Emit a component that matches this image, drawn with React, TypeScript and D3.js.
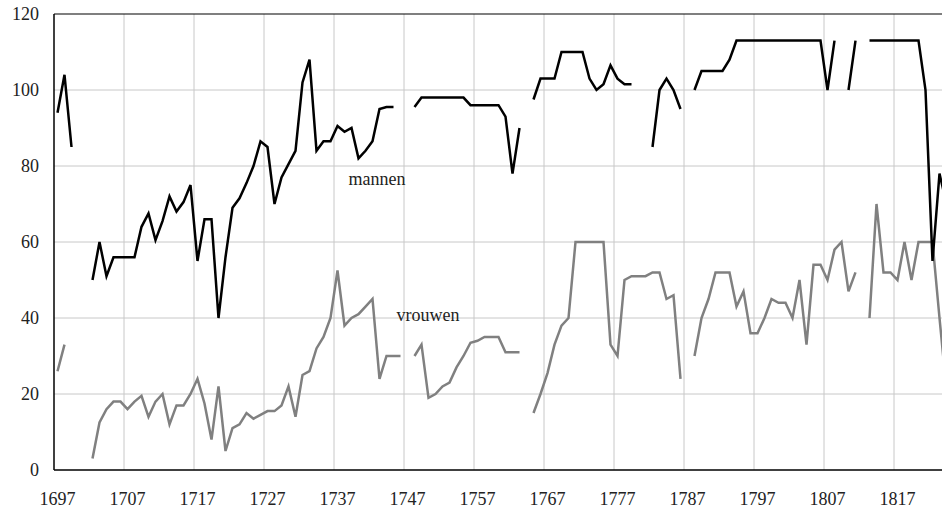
import React from 'react';
import * as d3 from 'd3';

// yearly categories 1697..1824
const years: number[] = d3.range(1697, 1825);

// mannen (black line), null = no data
const mannen: (number | null)[] = [
  94, 104, 85, null, null, 50, 60, 51, 56, 56,
  56, 56, 64, 67.5, 60.5, 65.5, 72, 68, 70.5, 75,
  55, 66, 66, 40, 56, 69, 71.5, 75.5, 80, 86.5,
  85, 70, 77, 80.5, 84, 102, 108, 84, 86.5, 86.5,
  90.5, 89, 90, 82, 84, 86.5, 95, 95.5, 95.5, null,
  null, 95.5, 98, 98, 98, 98, 98, 98, 98, 96,
  96, 96, 96, 96, 93, 78, 90, null, 97.5, 103,
  103, 103, 110, 110, 110, 110, 103, 100, 101.5, 106.5,
  103, 101.5, 101.5, null, null, 85, 100, 103, 100, 95,
  null, 100, 105, 105, 105, 105, 108, 113, 113, 113,
  113, 113, 113, 113, 113, 113, 113, 113, 113, 113,
  100, 113, null, 100, 113, null, 113, 113, 113, 113,
  113, 113, 113, 113, 100, 55, 78, 70,
];

// vrouwen (grey line)
const vrouwen: (number | null)[] = [
  26, 33, null, null, null, 3, 12.5, 16, 18, 18,
  16, 18, 19.5, 14, 18, 20, 12, 17, 17, 20,
  24, 17.5, 8, 22, 5, 11, 12, 15, 13.5, 14.5,
  15.5, 15.5, 17, 22, 14, 25, 26, 32, 35, 40,
  52.5, 38, 40, 41, 43, 45, 24, 30, 30, 30,
  null, 30, 33, 19, 20, 22, 23, 27, 30, 33.5,
  34, 35, 35, 35, 31, 31, 31, null, 15, 20,
  25.5, 33, 38, 40, 60, 60, 60, 60, 60, 33,
  30, 50, 51, 51, 51, 52, 52, 45, 46, 24,
  null, 30, 40, 45, 52, 52, 52, 43, 47, 36,
  36, 40, 45, 44, 44, 40, 50, 33, 54, 54,
  50, 58, 60, 47, 52, null, 40, 70, 52, 52,
  50, 60, 50, 60, 60, 60, 40, 21,
];

const yTicks = [0, 20, 40, 60, 80, 100, 120];
const xTickYears = d3.range(1697, 1825, 10);

const width = 942;
const height = 510;
const margin = { top: 14, left: 54, bottom: 40 };
const bandW = 7;
const font = '"Liberation Serif", "Times New Roman", serif';

export default function App() {
  const x = d3.scaleBand<number>()
    .domain(years)
    .range([margin.left, margin.left + years.length * bandW])
    .paddingInner(0)
    .paddingOuter(0);
  const y = d3.scaleLinear().domain([0, 120]).range([height - margin.bottom, margin.top]);

  const cx = (yr: number) => (x(yr) as number) + x.bandwidth() / 2;

  const line = d3.line<number | null>()
    .defined(d => d != null)
    .x((d, i) => cx(years[i]))
    .y(d => y(d as number));

  const plotRight = margin.left + years.length * bandW;
  const bottom = y(0);

  return (
    <svg width={width} height={height}
      style={{ position: 'absolute', left: 0, top: 0, background: '#fff' }}
      fontFamily={font}>
      {/* horizontal grid */}
      {yTicks.filter(t => t > 0 && t < 120).map(t => (
        <line key={'hy' + t} x1={margin.left} x2={plotRight} y1={y(t)} y2={y(t)}
          stroke="#c8c8c8" strokeWidth={1} />
      ))}
      {/* vertical grid */}
      {xTickYears.filter(yr => yr > 1697).map(yr => (
        <line key={'vx' + yr} x1={x(yr)} x2={x(yr)} y1={margin.top} y2={bottom}
          stroke="#c8c8c8" strokeWidth={1} />
      ))}
      {/* frame */}
      <line x1={margin.left} x2={plotRight} y1={margin.top} y2={margin.top} stroke="#000" strokeWidth={1.2} />
      <line x1={margin.left} x2={margin.left} y1={margin.top} y2={bottom} stroke="#000" strokeWidth={1.5} />
      <line x1={margin.left} x2={plotRight} y1={bottom} y2={bottom} stroke="#000" strokeWidth={1.5} />

      {/* series */}
      <path d={line(vrouwen) || ''} fill="none" stroke="#808080" strokeWidth={2.5} strokeLinejoin="miter" />
      <path d={line(mannen) || ''} fill="none" stroke="#000" strokeWidth={2.5} strokeLinejoin="miter" />

      {/* y tick labels */}
      {yTicks.map(t => (
        <text key={'yl' + t} x={39} y={y(t)} dy="0.35em" textAnchor="end" fontSize={18} fill="#222">{t}</text>
      ))}
      {/* x tick labels */}
      {xTickYears.map(yr => (
        <text key={'xl' + yr} x={cx(yr)} y={505} textAnchor="middle" fontSize={18} fill="#222">{yr}</text>
      ))}

      {/* series labels */}
      <text x={377} y={185} textAnchor="middle" fontSize={18} fill="#222">mannen</text>
      <text x={428} y={321} textAnchor="middle" fontSize={18} fill="#222">vrouwen</text>
    </svg>
  );
}
